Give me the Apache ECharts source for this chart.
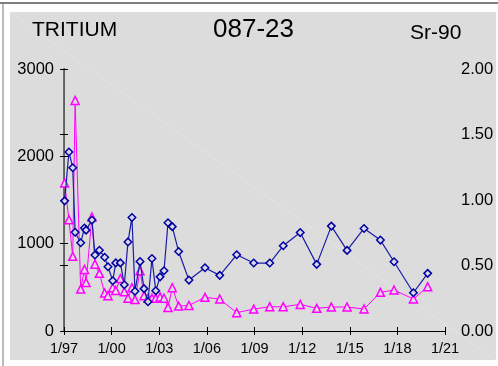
<!DOCTYPE html>
<html>
<head>
<meta charset="utf-8">
<script src="https://cdn.jsdelivr.net/npm/echarts@6/dist/echarts.min.js"></script>
<style>
html,body{margin:0;padding:0;background:#fff;}
#chart{width:498px;height:366px;}
</style>
</head>
<body>
<div id="chart"></div>
<script>
// sample dates as decimal years
const sampleDates = [1997.04,1997.31,1997.55,1997.70,1998.05,1998.29,1998.39,1998.76,1998.95,1999.23,
  1999.56,1999.77,2000.07,2000.26,2000.55,2000.80,2001.03,2001.28,2001.47,2001.79,
  2002.04,2002.29,2002.54,2002.78,2003.05,2003.30,2003.55,2003.82,2004.22,2004.87,
  2005.88,2006.81,2007.88,2008.95,2009.96,2010.81,2011.88,2012.92,2013.84,2014.83,
  2015.90,2016.93,2017.79,2019.01,2019.91];
// Tritium (left axis)
const tritium = [1490,2050,1870,1130,1010,1180,1155,1270,870,925,
  845,735,575,780,780,530,1020,1300,455,795,
  485,335,830,460,620,690,1240,1195,910,583,
  724,637,873,778,778,976,1127,763,1201,923,
  1174,1041,793,438,660];
// Sr-90 (right axis)
const sr90 = [1.13,0.85,0.57,1.76,0.32,0.47,0.37,0.87,0.51,0.44,
  0.29,0.27,0.33,0.31,0.40,0.30,0.25,0.33,0.24,0.46,
  0.27,0.25,0.25,0.25,0.26,0.25,0.18,0.33,0.19,0.195,
  0.257,0.244,0.14,0.167,0.185,0.185,0.203,0.173,0.183,0.183,
  0.168,0.295,0.313,0.244,0.338];
const startYear = 1997;
const endYear = 2021;
const yearStep = 3;
const leftMax = 3000, leftStep = 1000;
const rightMax = 2, rightStep = 0.5;
const titleLeft = 'TRITIUM', titleCenter = '087-23', titleRight = 'Sr-90';

const chart = echarts.init(document.getElementById('chart'), null, {renderer:'canvas'});
const FONT = '"Liberation Sans", Arial, sans-serif';
const xFmt = v => '1/' + String((startYear + v) % 100).padStart(2,'0');
const G = {left:64, top:69, width:381, height:262};

function xAx(pos, inside, labels) {
  return {
    type:'value', position:pos, min:0, max:endYear-startYear, interval:yearStep,
    axisLine:{show:true, lineStyle:{color:'#000', width:1}},
    axisTick:{show:true, inside:inside, length:4, lineStyle:{color:'#000', width:1}},
    axisLabel:{show:labels, formatter:xFmt, color:'#000', fontFamily:FONT, fontSize:14.5, margin:10},
    splitLine:{show:false}
  };
}
function yAx(pos, max, step, inside, labels, color, fmt, margin) {
  return {
    type:'value', position:pos, min:0, max:max, interval:step,
    axisLine:{show:true, lineStyle:{color:color, width: pos==='right'?1.5:1}},
    axisTick:{show:true, inside:inside, length:4, lineStyle:{color:'#000', width:1}},
    axisLabel:{show:labels, formatter:fmt, color:'#000', fontFamily:FONT, fontSize:16.5, margin:margin},
    splitLine:{show:false}
  };
}

const option = {
  animation:false,
  backgroundColor:'#ffffff',
  graphic:[
    {type:'rect', z:-10, shape:{x:10, y:12, width:486, height:348}, style:{fill:'#dcdcdc'}},
    {type:'line', z:-9, shape:{x1:10, y1:12, x2:495, y2:360}, style:{stroke:'#e4e4e4', lineWidth:1}},
    {type:'line', z:-9, shape:{x1:0, y1:3, x2:498, y2:3}, style:{stroke:'#000', lineWidth:1}},
    {type:'line', z:-9, shape:{x1:3, y1:3, x2:3, y2:366}, style:{stroke:'#777', lineWidth:1}},
    {type:'text', left:32, top:20, style:{text:titleLeft, font:'21px ' + FONT, fill:'#000'}},
    {type:'text', left:213, top:17, style:{text:titleCenter, font:'26px ' + FONT, fill:'#000'}},
    {type:'text', left:410, top:23, style:{text:titleRight, font:'21px ' + FONT, fill:'#000'}}
  ],
  grid:G,
  xAxis:[
    xAx('bottom', false, true),
    xAx('bottom', true, false),
    xAx('top', true, false),
    xAx('top', false, false)
  ],
  yAxis:[
    yAx('left', leftMax, leftStep, false, true, '#000', v => String(v), 10),
    yAx('left', leftMax, leftStep, true, false, '#000', v => String(v), 10),
    yAx('right', rightMax, rightStep, false, true, '#666', v => v.toFixed(2), 16),
    yAx('right', rightMax, rightStep, true, false, '#666', v => v.toFixed(2), 16)
  ],
  series:[
    {
      name:'Sr-90', type:'line', xAxisIndex:0, yAxisIndex:2,
      data: sampleDates.map((d,i)=>[d-startYear, sr90[i]]),
      symbol:'triangle', symbolSize:8,
      lineStyle:{color:'#ff00ff', width:1},
      itemStyle:{color:'#e6dce6', borderColor:'#ff00ff', borderWidth:1.5},
      z:3
    },
    {
      name:'Tritium', type:'line', xAxisIndex:0, yAxisIndex:0,
      data: sampleDates.map((d,i)=>[d-startYear, tritium[i]]),
      symbol:'diamond', symbolSize:7.5,
      lineStyle:{color:'#1a1aa8', width:1.2},
      itemStyle:{color:'#d8d8e8', borderColor:'#0000a0', borderWidth:1.5},
      z:4
    }
  ]
};
chart.setOption(option);
</script>
</body>
</html>
